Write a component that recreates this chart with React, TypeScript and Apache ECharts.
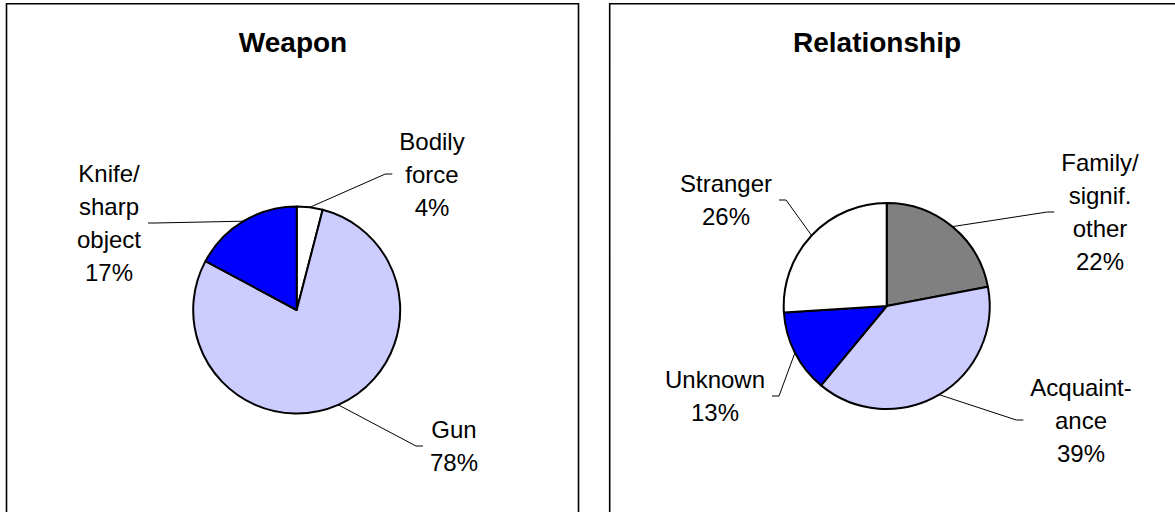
import React, { useEffect, useRef } from 'react';
import * as echarts from 'echarts';

// ---------- data ----------
const titles = ['Weapon', 'Relationship'];

const weaponCategories = ['Bodily\nforce', 'Gun', 'Knife/\nsharp\nobject'];
const weaponValues = [4, 78, 17];
const weaponColors = ['#FFFFFF', '#CCCCFF', '#0000FF'];

const relationCategories = ['Family/\nsignif.\nother', 'Acquaint-\nance', 'Unknown', 'Stranger'];
const relationValues = [22, 39, 13, 26];
const relationColors = ['#808080', '#CCCCFF', '#0000FF', '#FFFFFF'];

// ---------- layout ----------
const FONT = 'Arial, "Liberation Sans", Helvetica, sans-serif';
const weaponLabelPos = [
  { x: 432, y: 174, side: 'left' },
  { x: 454, y: 446, side: 'left' },
  { x: 109, y: 223, side: 'right' },
];
const relationLabelPos = [
  { x: 1100, y: 212, side: 'left' },
  { x: 1081, y: 420, side: 'left' },
  { x: 715, y: 396, side: 'right' },
  { x: 726, y: 200, side: 'right' },
];
const GAP = 7;
const TICK = 7;

function makeLayout(pos: { x: number; y: number; side: string }[]) {
  return (params: any) => {
    const p = pos[params.dataIndex];
    if (!p) return {};
    const w = params.labelRect ? params.labelRect.width : 0;
    const pts = params.labelLinePoints;
    const edgeX = p.side === 'left' ? p.x - w / 2 - GAP : p.x + w / 2 + GAP;
    const tickX = p.side === 'left' ? edgeX - TICK : edgeX + TICK;
    const out: any = { x: p.x, y: p.y, align: 'center', verticalAlign: 'middle' };
    if (pts && pts[0]) {
      out.labelLinePoints = [pts[0], [tickX, p.y], [edgeX, p.y]];
    }
    return out;
  };
}

function pieSeries(
  names: string[],
  values: number[],
  colors: string[],
  center: [number, number],
  radius: number,
  pos: { x: number; y: number; side: string }[]
) {
  return {
    type: 'pie',
    center,
    radius,
    startAngle: 90,
    clockwise: true,
    avoidLabelOverlap: false,
    silent: true,
    data: names.map((n, i) => ({
      name: n,
      value: values[i],
      itemStyle: { color: colors[i] },
    })),
    itemStyle: { borderColor: '#000', borderWidth: 2 },
    label: {
      show: true,
      position: 'outside',
      formatter: '{b}\n{c}%',
      color: '#000',
      fontFamily: FONT,
      fontSize: 24,
      lineHeight: 33,
      align: 'center',
    },
    labelLine: {
      show: true,
      length: 20,
      length2: 10,
      lineStyle: { color: '#000', width: 1 },
    },
    labelLayout: makeLayout(pos),
  };
}

export default function App() {
  const ref = useRef<HTMLDivElement>(null);
  useEffect(() => {
    if (!ref.current) return;
    const chart = echarts.init(ref.current, undefined, { renderer: 'svg' });
    chart.setOption({
      animation: false,
      backgroundColor: '#FFFFFF',
      graphic: [
        {
          type: 'rect',
          shape: { x: 6.5, y: 3.8, width: 572, height: 530 },
          style: { fill: 'none', stroke: '#000', lineWidth: 1.6 },
          z: 0,
        },
        {
          type: 'rect',
          shape: { x: 609.7, y: 3.8, width: 572, height: 530 },
          style: { fill: 'none', stroke: '#000', lineWidth: 1.6 },
          z: 0,
        },
        {
          type: 'text',
          x: 293,
          y: 42,
          style: {
            text: titles[0],
            fontFamily: FONT,
            fontSize: 28,
            fontWeight: 'bold',
            fill: '#000',
            align: 'center',
            verticalAlign: 'middle',
          },
        },
        {
          type: 'text',
          x: 877,
          y: 42,
          style: {
            text: titles[1],
            fontFamily: FONT,
            fontSize: 28,
            fontWeight: 'bold',
            fill: '#000',
            align: 'center',
            verticalAlign: 'middle',
          },
        },
      ],
      series: [
        pieSeries(weaponCategories, weaponValues, weaponColors, [296.7, 310], 103.5, weaponLabelPos),
        pieSeries(relationCategories, relationValues, relationColors, [886.7, 306], 103, relationLabelPos),
      ],
    });
    return () => chart.dispose();
  }, []);
  return (
    <div
      ref={ref}
      style={{ position: 'absolute', left: 0, top: 0, width: 1175, height: 512 }}
    />
  );
}
